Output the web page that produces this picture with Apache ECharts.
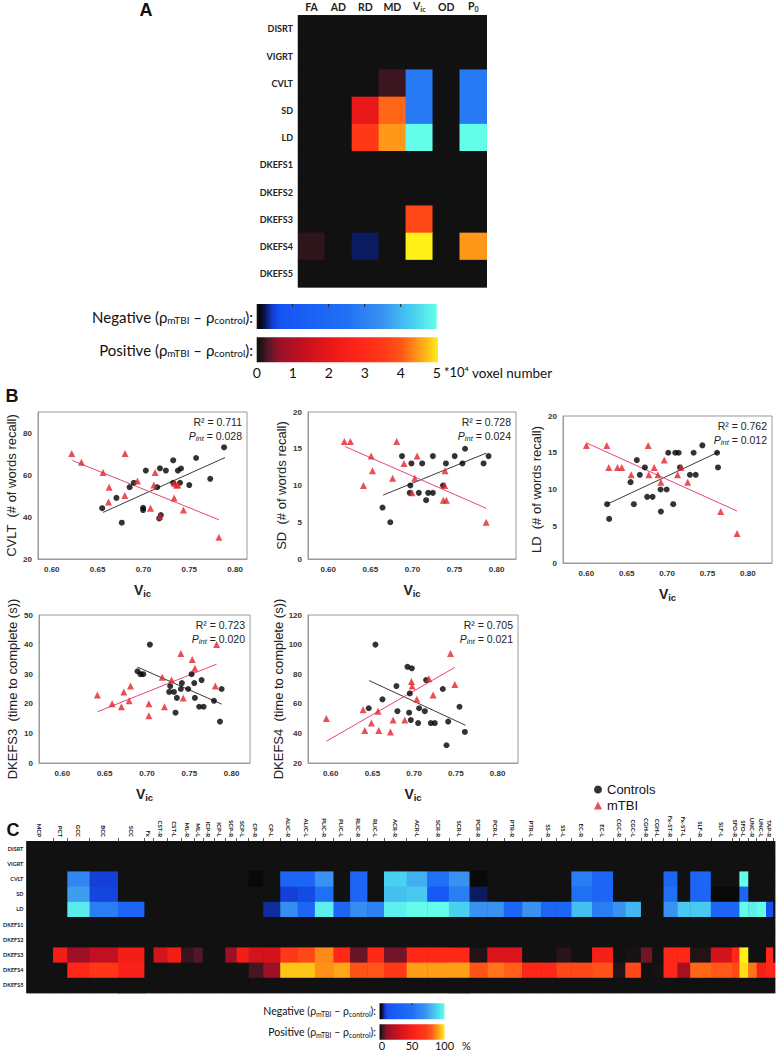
<!DOCTYPE html>
<html><head><meta charset="utf-8">
<script src="https://cdn.jsdelivr.net/npm/echarts@6/dist/echarts.min.js"></script>
<style>html,body{margin:0;padding:0;background:#fff}#chart{width:780px;height:1051px}</style>
</head><body><div id="chart"></div>
<script>
// ================= DATA =================
// ---- Panel A: signed voxel number (x10^4); negative = blue scale, positive = red scale
const measuresA = ['FA','AD','RD','MD','Vic','OD','P0'];
const testsA = ['DISRT','VIGRT','CVLT','SD','LD','DKEFS1','DKEFS2','DKEFS3','DKEFS4','DKEFS5'];
const A_DISRT  = [0,0,0,0,0,0,0];
const A_VIGRT  = [0,0,0,0,0,0,0];
const A_CVLT   = [0,0,0,0.22,-2.75,0,-2.75];
const A_SD     = [0,0,2.0,4.1,-2.75,0,-2.75];
const A_LD     = [0,0,3.5,4.45,-5,0,-5];
const A_DKEFS1 = [0,0,0,0,0,0,0];
const A_DKEFS2 = [0,0,0,0,0,0,0];
const A_DKEFS3 = [0,0,0,0,3.75,0,0];
const A_DKEFS4 = [0.17,0,-0.25,0,5,0,4.45];
const A_DKEFS5 = [0,0,0,0,0,0,0];
const colorbarTicksA = [0,1,2,3,4,5];

// ---- Panel B scatter data [Vic, score]
const cvltControls = [[0.655,44.2],[0.6706,49.1],[0.6764,37.3],[0.685,54.2],[0.6895,56.3],[0.6997,44.4],[0.6997,43.3],[0.7026,62.1],[0.715,54.2],[0.718,63.2],[0.7172,39.3],[0.719,40.9],[0.7245,62.1],[0.7325,67.0],[0.7325,56.3],[0.7376,62.1],[0.741,63.1],[0.740,56.3],[0.750,55.2],[0.7575,68.1],[0.7729,58.2],[0.788,73.2]];
const cvltMtbi = [[0.6218,70.2],[0.6324,66.1],[0.656,61.2],[0.6626,54.2],[0.6619,47.2],[0.6797,50.2],[0.68,70.2],[0.6935,57.2],[0.7077,44.2],[0.7128,61.2],[0.7114,55.2],[0.7179,40.3],[0.7335,49.1],[0.7335,56.1],[0.736,55.2],[0.7375,55.2],[0.7437,43.3],[0.7823,30.3]];
const cvltControlsFit = [[0.656,42.2],[0.789,68.3]];
const cvltMtbiFit = [[0.6226,66.9],[0.7823,38.7]];

const sdControls = [[0.6645,7],[0.6737,5],[0.6876,14],[0.6976,10],[0.6968,9],[0.6988,13],[0.7076,9],[0.7116,13],[0.7163,8],[0.7187,9],[0.7243,9],[0.7243,14],[0.7363,10],[0.7398,13],[0.7502,14],[0.7625,15],[0.7594,13],[0.7845,13],[0.7904,14]];
const sdMtbi = [[0.6191,16],[0.6263,16],[0.651,14],[0.6526,12],[0.6418,10],[0.6765,11],[0.6813,16],[0.690,13],[0.6996,9],[0.7028,11],[0.7056,14],[0.7387,12],[0.7383,10],[0.7367,8],[0.7403,8],[0.7876,5]];
const sdControlsFit = [[0.6653,8.7],[0.7876,14.4]];
const sdMtbiFit = [[0.62,15.3],[0.7876,6.9]];

const ldControls = [[0.6257,8],[0.6282,6],[0.6547,11],[0.6588,8],[0.6625,14],[0.6662,12],[0.6725,13],[0.6753,9],[0.682,9],[0.6919,10],[0.6923,7],[0.6994,10],[0.7014,15],[0.7076,8],[0.7101,15],[0.7143,15],[0.716,13],[0.7283,12],[0.7329,15],[0.7354,12],[0.7437,16],[0.7619,15],[0.7631,13]];
const ldMtbi = [[0.600,16],[0.6253,16],[0.6277,13],[0.6385,13],[0.6439,13],[0.6555,12],[0.6766,16],[0.6774,12],[0.684,13],[0.6886,12],[0.6923,11],[0.6965,14],[0.713,12],[0.7172,13],[0.7255,11],[0.7664,7],[0.7867,4]];
const ldControlsFit = [[0.6257,8.0],[0.7631,15.06]];
const ldMtbiFit = [[0.6008,16.3],[0.7867,7.07]];

const dkefs3Controls = [[0.6888,31],[0.7034,40],[0.6923,30],[0.6955,30],[0.7274,26],[0.7262,24],[0.7318,24],[0.7337,17],[0.7353,22],[0.74,25],[0.7412,27],[0.7487,25],[0.7527,30],[0.7558,27],[0.7566,22],[0.7645,28],[0.7617,19],[0.7669,19],[0.7791,21],[0.7882,25],[0.7862,14]];
const dkefs3Mtbi = [[0.6414,23],[0.6588,20],[0.6698,19],[0.6726,24],[0.6805,26],[0.6789,21],[0.7022,20],[0.7022,16],[0.718,29],[0.7207,19],[0.729,28],[0.74,37],[0.7428,22],[0.7535,35],[0.7566,32],[0.7823,40],[0.7807,26]];
const dkefs3ControlsFit = [[0.6888,32.4],[0.7882,19.9]];
const dkefs3MtbiFit = [[0.6414,17.3],[0.7823,33.4]];

const dkefs4Controls = [[0.6536,100],[0.6456,57],[0.662,63],[0.6788,72],[0.68,55],[0.692,85],[0.6972,84],[0.6948,67],[0.694,54],[0.696,49],[0.7048,47],[0.706,57],[0.7128,55],[0.7144,76],[0.72,47],[0.7248,47],[0.7344,70],[0.7408,48],[0.7388,32],[0.7544,58],[0.7608,41]];
const dkefs4Mtbi = [[0.5948,50],[0.6388,56],[0.6408,42],[0.6488,47],[0.6568,55],[0.6576,42],[0.6716,41],[0.6748,49],[0.6888,49],[0.6968,75],[0.6976,72],[0.7032,63],[0.7176,77],[0.7228,66],[0.7436,94],[0.7488,73]];
const dkefs4ControlsFit = [[0.646,75.7],[0.7616,45.5]];
const dkefs4MtbiFit = [[0.5948,34.7],[0.7488,84.6]];

const vicTicks = [0.60,0.65,0.70,0.75,0.80];

// ---- Panel C: JHU white-matter regions, relative column widths, signed % values
const regionsC = ['MCP','PCT','GCC','BCC','SCC','Fx','CST-R','CST-L','ML-R','ML-L','ICP-R','ICP-L','SCP-R','SCP-L','CP-R','CP-L','ALIC-R','ALIC-L','PLIC-R','PLIC-L','RLIC-R','RLIC-L','ACR-R','ACR-L','SCR-R','SCR-L','PCR-R','PCR-L','PTR-R','PTR-L','SS-R','SS-L','EC-R','EC-L','CGC-R','CGC-L','CGH-R','CGH-L','Fx-ST-R','Fx-ST-L','SLF-R','SLF-L','SFO-R','SFO-L','UNC-R','UNC-L','TAP-R','TAP-L'];
const regionWidthC = [26.7,14.3,22.3,28.4,26.6,9,13.7,14,12.7,9,11.3,11.3,11.4,12,14.6,17,17.4,17.3,18.7,16.6,17.4,16.6,22.7,20.7,21.6,20.7,17.7,16.6,18.4,19,15.3,15,20.7,21,12.3,15.7,11.3,11.3,14,12.7,20.7,21,7.6,9,8.4,9.3,7.3,1.7];
const C_DISRT  = [0,0,0,0,0,0,0,0,0,0,0,0,0,0,0,0,0,0,0,0,0,0,0,0,0,0,0,0,0,0,0,0,0,0,0,0,0,0,0,0,0,0,0,0,0,0,0,0];
const C_VIGRT  = [0,0,0,0,0,0,0,0,0,0,0,0,0,0,0,0,0,0,0,0,0,0,0,0,0,0,0,0,0,0,0,0,0,0,0,0,0,0,0,0,0,0,0,0,0,0,0,0];
const C_CVLT   = [0,0,-63,-9,0, 0,0,0,0,0, 0,0,0,0,-1, 0,-35,-35,-70,0, -35,0,-87,-78,-50, -70,-1,0,0,0, 0,0,-58,-35,0, 0,0,0,-35,0, -35,0,0,-100,0, 0,0,0];
const C_SD     = [0,0,-73,-10,0, 0,0,0,0,0, 0,0,0,0,0, 0,-9,-11,-50,0, -35,0,-82,-85,-20, -58,-5,0,0,0, 0,0,-50,-35,0, 0,0,0,-50,0, -35,-1,-1,-35,0, 0,0,0];
const C_LD     = [0,0,-95,-58,-35, 0,0,0,0,0, 0,0,0,0,0, -7,-67,-35,-96,-35, -67,-60,-96,-100,-100, -87,-70,-70,-35,-70, -35,-35,-82,-58,-70, -80,0,0,-70,-85, -85,-35,-35,-100,-96, -100,-12,0];
const C_DKEFS1 = [0,0,0,0,0,0,0,0,0,0,0,0,0,0,0,0,0,0,0,0,0,0,0,0,0,0,0,0,0,0,0,0,0,0,0,0,0,0,0,0,0,0,0,0,0,0,0,0];
const C_DKEFS2 = [0,0,0,0,0,0,0,0,0,0,0,0,0,0,0,0,0,0,0,0,0,0,0,0,0,0,0,0,0,0,0,0,0,0,0,0,0,0,0,0,0,0,0,0,0,0,0,0];
const C_DKEFS3 = [0,48,15,25,48, 0,32,48,4,6, 0,0,15,48,32, 32,70,75,87,58, 8,58,9,58,58, 58,2.5,35,35,0, 0,3,0,50,0, 1.5,9,0,58,58, 2.5,32,58,100,0, 0,58,0];
const C_DKEFS4 = [0,0,58,68,52, 0,0,0,0,0, 0,0,0,0,5, 15,95,95,88,91, 78,79,70,90,90, 90,78,84,81,58, 58,75,75,78,2.5, 75,0,1,58,18, 82,80,75,98,84, 50,58,58];
const C_DKEFS5 = [0,0,0,0,0,0,0,0,0,0,0,0,0,0,0,0,0,0,0,0,0,0,0,0,0,0,0,0,0,0,0,0,0,0,0,0,0,0,0,0,0,0,0,0,0,0,0,0];
const colorbarTicksC = [0,50,100];

// ================= STYLE HELPERS =================
const NEG_STOPS = [[0,'#111111'],[0.015,'#050505'],[0.05,'#0c1a60'],[0.09,'#1440d8'],[0.13,'#1554f4'],[0.5,'#2070f5'],[0.7,'#3a92f0'],[0.86,'#48cdf0'],[1,'#64fdea']];
const POS_STOPS = [[0,'#111111'],[0.02,'#1c1214'],[0.06,'#501828'],[0.12,'#951028'],[0.25,'#c21020'],[0.4,'#e81818'],[0.55,'#ff2418'],[0.7,'#ff3818'],[0.8,'#ff5818'],[0.88,'#ff9018'],[0.95,'#ffc418'],[1,'#fff018']];
function hex2rgb(h){return [parseInt(h.slice(1,3),16),parseInt(h.slice(3,5),16),parseInt(h.slice(5,7),16)];}
function lerpColor(stops,t){
  t=Math.max(0,Math.min(1,t));
  for(let i=1;i<stops.length;i++){
    if(t<=stops[i][0]){
      const a=stops[i-1],b=stops[i],f=(t-a[0])/(b[0]-a[0]);
      const ca=hex2rgb(a[1]),cb=hex2rgb(b[1]);
      return 'rgb('+ca.map((c,k)=>Math.round(c+(cb[k]-c)*f)).join(',')+')';
    }
  }
  return stops[stops.length-1][1];
}
function divergingColors(n){
  const out=[];
  for(let i=0;i<n;i++){const v=-1+2*i/(n-1); out.push(v<0?lerpColor(NEG_STOPS,-v):lerpColor(POS_STOPS,v));}
  return out;
}
function gradient(stops){
  return new echarts.graphic.LinearGradient(0,0,1,0,stops.map(s=>({offset:s[0],color:s[1]})));
}
function txt(x,y,text,o){
  return {type:'text',x:x,y:y,silent:true,z:100,
    style:Object.assign({text:text,fill:'#111',fontFamily:'Liberation Sans',fontSize:12,
      align:'left',verticalAlign:'middle',textAlign:'left',textVerticalAlign:'middle'},o||{})};
}
const subRich = (size, pad, extra) => Object.assign({fontSize:size, padding:[pad,0,0,0]}, extra||{});

// ================= BUILD =================
const rowsA = [A_DISRT,A_VIGRT,A_CVLT,A_SD,A_LD,A_DKEFS1,A_DKEFS2,A_DKEFS3,A_DKEFS4,A_DKEFS5];
const heatA = [];
rowsA.forEach((row,r)=>row.forEach((v,c)=>heatA.push([c,r,v])));

const rowsC = [C_DISRT,C_VIGRT,C_CVLT,C_SD,C_LD,C_DKEFS1,C_DKEFS2,C_DKEFS3,C_DKEFS4,C_DKEFS5];
const edgesC = [0];
regionWidthC.forEach(w=>edgesC.push(edgesC[edgesC.length-1]+w));
const totalC = edgesC[edgesC.length-1];
const centersC = regionWidthC.map((w,i)=>(edgesC[i]+edgesC[i+1])/2);
const heatC = [];
rowsC.forEach((row,r)=>row.forEach((v,c)=>heatC.push([edgesC[c],edgesC[c+1],r,v])));

// layout of the five scatter panels (pixels / axis ranges)
const plots = [
  {grid:{left:38,top:412,width:209,height:147}, x:[0.585,0.813], y:[20,90], yTicks:[20,40,60,80], yName:'CVLT  (# of words recall)', r2:'0.711', p:'0.028', c:cvltControls, m:cvltMtbi, cf:cvltControlsFit, mf:cvltMtbiFit},
  {grid:{left:308,top:412,width:208,height:147}, x:[0.576,0.823], y:[0,20], yTicks:[0,5,10,15,20], yName:'SD  (# of words recall)', r2:'0.728', p:'0.024', c:sdControls, m:sdMtbi, cf:sdControlsFit, mf:sdMtbiFit},
  {grid:{left:563,top:416,width:209,height:147}, x:[0.571,0.830], y:[0,20], yTicks:[0,5,10,15,20], yName:'LD  (# of words recall)', r2:'0.762', p:'0.012', c:ldControls, m:ldMtbi, cf:ldControlsFit, mf:ldMtbiFit},
  {grid:{left:39,top:615,width:211,height:148}, x:[0.5724,0.8217], y:[0,50], yTicks:[0,10,20,30,40,50], yName:'DKEFS3  (time to complete (s))', r2:'0.723', p:'0.020', c:dkefs3Controls, m:dkefs3Mtbi, cf:dkefs3ControlsFit, mf:dkefs3MtbiFit},
  {grid:{left:308,top:615,width:210,height:148}, x:[0.5728,0.8245], y:[20,120], yTicks:[20,40,60,80,100,120], yName:'DKEFS4  (time to complete (s))', r2:'0.705', p:'0.021', c:dkefs4Controls, m:dkefs4Mtbi, cf:dkefs4ControlsFit, mf:dkefs4MtbiFit}
];

const grids=[], xAxes=[], yAxes=[], series=[], graphics=[];

// --- Panel A heatmap
grids.push({left:298, top:15.3, width:188.7, height:272, show:true, backgroundColor:'#111111', borderWidth:0});
xAxes.push({type:'category', gridIndex:0, data:measuresA, position:'top',
  axisLine:{show:false}, axisTick:{show:false}, splitLine:{show:false},
  axisLabel:{margin:3, interval:0,
    formatter:v=> v==='Vic' ? '{m|V}{s|ic}' : (v==='P0' ? '{m|P}{s|0}' : '{m|'+v+'}'),
    rich:{m:{fontSize:10.5,fontWeight:'bold',fontFamily:'Lato',color:'#222'},
          s:subRich(7,6,{fontWeight:'bold',fontFamily:'Lato',color:'#222'})}}});
yAxes.push({type:'category', gridIndex:0, data:testsA, inverse:true,
  axisLine:{show:false}, axisTick:{show:false}, splitLine:{show:false},
  axisLabel:{margin:5, interval:0, fontSize:9, fontWeight:'bold', fontFamily:'Lato', color:'#222'}});
series.push({type:'heatmap', xAxisIndex:0, yAxisIndex:0, data:heatA, silent:true, itemStyle:{borderWidth:0}});

// --- Panel B scatters
plots.forEach((p,i)=>{
  const gi=i+1;
  grids.push(Object.assign({show:true, borderColor:'#9a9a9a', borderWidth:1, backgroundColor:'transparent'}, p.grid));
  xAxes.push({type:'value', gridIndex:gi, min:p.x[0], max:p.x[1],
    axisLine:{show:true, lineStyle:{color:'#9a9a9a'}}, axisTick:{show:false}, splitLine:{show:false},
    axisLabel:{customValues:vicTicks, formatter:v=>v.toFixed(2), fontSize:8, fontWeight:'bold', fontFamily:'Liberation Sans', color:'#333', margin:6},
    name:'{m|V}{s|ic}', nameLocation:'middle', nameGap:22,
    nameTextStyle:{rich:{m:{fontSize:14,fontWeight:'bold',fontFamily:'Liberation Sans',color:'#222'},
                         s:subRich(9.5,7,{fontWeight:'bold',fontFamily:'Liberation Sans',color:'#222'})}}});
  yAxes.push({type:'value', gridIndex:gi, min:p.y[0], max:p.y[1],
    axisLine:{show:true, lineStyle:{color:'#9a9a9a'}}, axisTick:{show:false}, splitLine:{show:false},
    axisLabel:{customValues:p.yTicks, fontSize:8, fontWeight:'bold', fontFamily:'Liberation Sans', color:'#333', margin:6},
    name:p.yName, nameLocation:'middle', nameGap:20,
    nameTextStyle:{fontSize:13, fontFamily:'Liberation Sans', color:'#222'}});
  series.push({type:'line', name:'Controls fit', xAxisIndex:gi, yAxisIndex:gi, data:p.cf, symbol:'none', silent:true, z:2, lineStyle:{color:'#3a3a3a', width:1}});
  series.push({type:'line', name:'mTBI fit', xAxisIndex:gi, yAxisIndex:gi, data:p.mf, symbol:'none', silent:true, z:2, lineStyle:{color:'#e8457a', width:1}});
  series.push({type:'scatter', name:'Controls', xAxisIndex:gi, yAxisIndex:gi, data:p.c, symbol:'circle', symbolSize:6, silent:true, z:3, itemStyle:{color:'#000'}});
  series.push({type:'scatter', name:'mTBI', xAxisIndex:gi, yAxisIndex:gi, data:p.m, symbol:'triangle', symbolSize:7, silent:true, z:3, itemStyle:{color:'#e3242b'}});
  const rx = p.grid.left + p.grid.width - 5;
  graphics.push(txt(rx, p.grid.top+10, 'R² = '+p.r2, {align:'right', textAlign:'right', fontSize:10.5, fill:'#222'}));
  graphics.push(txt(rx, p.grid.top+24, '{i|P}{si|int}{n| = '+p.p+'}', {align:'right', textAlign:'right', fontSize:10.5, fill:'#222',
    rich:{i:{fontSize:10.5,fontStyle:'italic',fontFamily:'Liberation Sans',fill:'#222'},
          si:subRich(7.5,5,{fontStyle:'italic',fontFamily:'Liberation Sans',fill:'#222'}),
          n:{fontSize:10.5,fontFamily:'Liberation Sans',fill:'#222'}}}));
});

// --- Panel C heatmap (variable-width regions)
const gC = 6;
grids.push({left:25, top:841, width:750, height:152, show:true, backgroundColor:'#111111', borderWidth:0});
xAxes.push({type:'value', gridIndex:gC, min:0, max:totalC, position:'top',
  axisLine:{show:false}, splitLine:{show:false},
  axisTick:{show:true, customValues:edgesC.slice(1,-1), length:3, lineStyle:{color:'#555', width:1}},
  axisLabel:{customValues:centersC, rotate:90, margin:4, fontSize:6, fontWeight:'bold', fontFamily:'Lato', color:'#111',
    formatter:(v)=>{let best=0,bd=1e9; centersC.forEach((c,i)=>{const d=Math.abs(c-v); if(d<bd){bd=d;best=i;}}); return regionsC[best];}}});
yAxes.push({type:'category', gridIndex:gC, data:testsA, inverse:true,
  axisLine:{show:false}, axisTick:{show:false}, splitLine:{show:false},
  axisLabel:{margin:3, interval:0, fontSize:5.5, fontWeight:'bold', fontFamily:'Lato', color:'#222'}});
series.push({type:'custom', xAxisIndex:gC, yAxisIndex:gC, data:heatC, silent:true,
  encode:{x:[0,1], y:2},
  renderItem:(params, api)=>{
    const p0 = api.coord([api.value(0), api.value(2)]);
    const p1 = api.coord([api.value(1), api.value(2)]);
    const h = api.size([0,1])[1];
    return {type:'rect', shape:{x:p0[0], y:p0[1]-h/2, width:p1[0]-p0[0]+0.4, height:h+0.4},
            style:{fill:api.visual('color')}};
  }});
const seriesC = series.length-1;

// --- Panel letters
graphics.push(txt(146,10,'A',{align:'center',textAlign:'center',fontSize:18,fontWeight:'bold'}));
graphics.push(txt(12,396,'B',{align:'center',textAlign:'center',fontSize:18,fontWeight:'bold'}));
graphics.push(txt(13,830,'C',{align:'center',textAlign:'center',fontSize:18,fontWeight:'bold'}));

// --- Colorbars panel A
const rhoRich = (base, sub, pad) => ({s:subRich(sub,pad,{fontFamily:'Lato',fill:'#111'})});
const barA = {x:256.7, w:180, yNeg:304, yPos:337.3, h:25};
graphics.push({type:'rect', silent:true, shape:{x:barA.x,y:barA.yNeg,width:barA.w,height:barA.h}, style:{fill:gradient(NEG_STOPS)}});
graphics.push({type:'rect', silent:true, shape:{x:barA.x,y:barA.yPos,width:barA.w+1.3,height:barA.h}, style:{fill:gradient(POS_STOPS)}});
colorbarTicksA.forEach(t=>{
  const x = barA.x + t/5*barA.w;
  if(t>0 && t<5) graphics.push({type:'line', silent:true, shape:{x1:x,y1:barA.yNeg,x2:x,y2:barA.yNeg+3}, style:{stroke:'#222',lineWidth:1}});
  graphics.push(txt(x, 372, String(t), {align:'center',textAlign:'center',fontSize:14,fontFamily:'Lato'}));
});
graphics.push(txt(444, 372, '*10⁴', {fontSize:13,fontFamily:'Lato'}));
graphics.push(txt(472, 372.5, 'voxel number', {fontSize:13.5,fontFamily:'Lato'}));
graphics.push(txt(253, 316.5, 'Negative (ρ{s|mTBI} – ρ{s|control}):', {align:'right',textAlign:'right',fontSize:15,fontFamily:'Lato', rich:rhoRich(15,10,7)}));
graphics.push(txt(253, 349.5, 'Positive (ρ{s|mTBI} – ρ{s|control}):', {align:'right',textAlign:'right',fontSize:15,fontFamily:'Lato', rich:rhoRich(15,10,7)}));

// --- Colorbars panel C
const barC = {x:379.5, w:65, yNeg:1003.3, yPos:1024.3, h:16};
graphics.push({type:'rect', silent:true, shape:{x:barC.x,y:barC.yNeg,width:barC.w,height:barC.h}, style:{fill:gradient(NEG_STOPS)}});
graphics.push({type:'rect', silent:true, shape:{x:barC.x,y:barC.yPos,width:barC.w,height:barC.h-0.5}, style:{fill:gradient(POS_STOPS)}});
colorbarTicksC.forEach(t=>{
  const x = barC.x + t/100*barC.w;
  if(t>0 && t<100) graphics.push({type:'line', silent:true, shape:{x1:x,y1:barC.yNeg,x2:x,y2:barC.yNeg+2}, style:{stroke:'#222',lineWidth:1}});
  graphics.push(txt(t===0?x+2.5:x, 1045.5, String(t), {align:'center',textAlign:'center',fontSize:11,fontFamily:'Lato'}));
});
graphics.push(txt(462, 1045.5, '%', {fontSize:11,fontFamily:'Lato'}));
graphics.push(txt(376, 1011, 'Negative (ρ{s|mTBI} – ρ{s|control}):', {align:'right',textAlign:'right',fontSize:10.5,fontFamily:'Lato', rich:rhoRich(10.5,7,5)}));
graphics.push(txt(376, 1032, 'Positive (ρ{s|mTBI} – ρ{s|control}):', {align:'right',textAlign:'right',fontSize:10.5,fontFamily:'Lato', rich:rhoRich(10.5,7,5)}));

const option = {
  animation:false,
  backgroundColor:'#ffffff',
  grid:grids, xAxis:xAxes, yAxis:yAxes, series:series,
  visualMap:[
    {type:'continuous', show:false, seriesIndex:0, dimension:2, min:-5, max:5, inRange:{color:divergingColors(401)}},
    {type:'continuous', show:false, seriesIndex:seriesC, dimension:3, min:-100, max:100, inRange:{color:divergingColors(401)}}
  ],
  legend:{orient:'vertical', left:589, top:778, itemWidth:8, itemHeight:8, itemGap:3, selectedMode:false,
    data:[{name:'Controls', icon:'circle', itemStyle:{color:'#000'}},{name:'mTBI', icon:'triangle', itemStyle:{color:'#e3242b'}}],
    textStyle:{fontSize:13, fontFamily:'Liberation Sans', color:'#111'}},
  graphic:{elements:graphics}
};
const chart = echarts.init(document.getElementById('chart'), null, {renderer:'svg', width:780, height:1051});
chart.setOption(option);
</script></body></html>
